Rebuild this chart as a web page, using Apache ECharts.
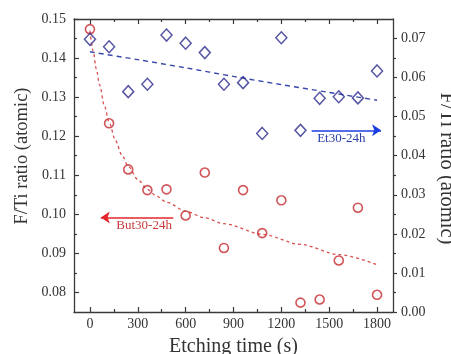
<!DOCTYPE html>
<html><head><meta charset="utf-8">
<script src="https://cdn.jsdelivr.net/npm/echarts@6/dist/echarts.min.js"></script>
<style>html,body{margin:0;padding:0;background:#fff}#c{width:451px;height:354px}</style>
</head><body><div id="c"></div>
<script>
const times = [0,120,240,360,480,600,720,840,960,1080,1200,1320,1440,1560,1680,1800];
const but30 = [0.1474,0.1233,0.1115,0.1062,0.1064,0.0997,0.1107,0.0914,0.1062,0.0952,0.1036,0.0774,0.0782,0.0882,0.1017,0.0794];
const et30 = [0.0698,0.0679,0.0564,0.0583,0.0709,0.0688,0.0664,0.0583,0.0587,0.0457,0.0702,0.0465,0.0547,0.0551,0.0548,0.0617];
const butFitTimes = [0,20,40,60,90,120,160,200,240,300,360,420,480,600,720,840,1080,1320,1560,1800];
const butFit = [0.1470,0.1418,0.1372,0.1332,0.1279,0.1236,0.1189,0.1152,0.1123,0.1089,0.1064,0.1046,0.1031,0.1008,0.0991,0.0976,0.0949,0.0923,0.0897,0.0871];
const etFitTimes = [0,300,600,900,1200,1500,1800];
const etFit = [0.0666,0.0646,0.0625,0.0603,0.0582,0.0562,0.0542];
const xTickLabels = [0,300,600,900,1200,1500,1800];
const xMinorTicks = [150,450,750,1050,1350,1650];
const leftTickLabels = [0.08,0.09,0.10,0.11,0.12,0.13,0.14,0.15];
const leftMinorTicks = [0.085,0.095,0.105,0.115,0.125,0.135,0.145];
const rightTickLabels = [0,0.01,0.02,0.03,0.04,0.05,0.06,0.07];
const rightMinorTicks = [0.005,0.015,0.025,0.035,0.045,0.055,0.065];
const butArrow = {from:[68,0.0992], to:[523,0.0992], label:'But30-24h'};
const etArrow = {from:[1390,0.0465], to:[1825,0.0465], label:'Et30-24h'};

const FONT = '"Liberation Serif","DejaVu Serif",serif';
const AX = '#3a3a3a';
const zip = (a,b) => a.map((v,i)=>[v,b[i]]);

const xRange = {min:-100, max:1900};
const leftRange = {min:0.075, max:0.15};
const rightRange = {min:0, max:0.075};
const line = {show:true, onZero:false, lineStyle:{color:AX, width:1.3}};

function hiddenAxis(extra){
  return Object.assign({type:'value', splitLine:{show:false}, axisLabel:{show:false}, axisLine:{show:false, onZero:false}}, extra);
}

const chart = echarts.init(document.getElementById('c'), null, {renderer:'canvas'});
chart.setOption({
  animation:false,
  backgroundColor:'#fff',
  grid:{left:74, right:58, top:19, bottom:42, containLabel:false, outerBoundsMode:'none'},
  xAxis:[
    {type:'value', ...xRange, position:'bottom',
     axisLine:line,
     axisTick:{show:true, inside:true, length:5, customValues:xTickLabels, lineStyle:{color:AX, width:1.2}},
     axisLabel:{customValues:xTickLabels, margin:5, color:'#333', fontSize:14, fontFamily:FONT, formatter:v=>String(v)},
     splitLine:{show:false},
     name:'Etching time (s)', nameLocation:'middle', nameGap:25, nameMoveOverlap:false,
     nameTextStyle:{fontSize:20, fontFamily:FONT, color:'#333'}},
    hiddenAxis({...xRange, position:'bottom',
     axisTick:{show:true, inside:true, length:3, customValues:xMinorTicks, lineStyle:{color:AX, width:1.2}}}),
    hiddenAxis({...xRange, position:'top', axisLine:line,
     axisTick:{show:true, inside:true, length:5, customValues:xTickLabels, lineStyle:{color:AX, width:1.2}}}),
    hiddenAxis({...xRange, position:'top',
     axisTick:{show:true, inside:true, length:3, customValues:xMinorTicks, lineStyle:{color:AX, width:1.2}}})
  ],
  yAxis:[
    {type:'value', ...leftRange, position:'left',
     axisLine:line,
     axisTick:{show:true, inside:true, length:5, customValues:leftTickLabels, lineStyle:{color:AX, width:1.2}},
     axisLabel:{customValues:leftTickLabels, margin:8, color:'#333', fontSize:14, fontFamily:FONT,
       formatter:v=>v.toFixed(2)},
     splitLine:{show:false},
     name:'F/Ti ratio (atomic)', nameLocation:'middle', nameRotate:90, nameGap:42, nameMoveOverlap:false,
     nameTextStyle:{fontSize:18.5, fontFamily:FONT, color:'#333', padding:[0,0,0,19]}},
    {type:'value', ...rightRange, position:'right',
     axisLine:line,
     axisTick:{show:true, inside:false, length:4, customValues:rightTickLabels, lineStyle:{color:AX, width:1.2}},
     axisLabel:{customValues:rightTickLabels, margin:8, color:'#333', fontSize:14, fontFamily:FONT,
       formatter:v=>v.toFixed(2)},
     splitLine:{show:false},
     name:'F/Ti ratio (atomic)', nameLocation:'middle', nameRotate:-90, nameGap:43, nameMoveOverlap:false,
     nameTextStyle:{fontSize:20.5, fontFamily:FONT, color:'#333', padding:[0,0,0,6]}},
    hiddenAxis({...leftRange, position:'left',
     axisTick:{show:true, inside:true, length:3, customValues:leftMinorTicks, lineStyle:{color:AX, width:1.2}}}),
    hiddenAxis({...rightRange, position:'right',
     axisTick:{show:true, inside:false, length:3, customValues:rightMinorTicks, lineStyle:{color:AX, width:1.2}}})
  ],
  series:[
    {type:'line', name:'But fit', xAxisIndex:0, yAxisIndex:0, data:zip(butFitTimes, butFit),
     smooth:0.3, smoothMonotone:'x', symbol:'none', z:2,
     lineStyle:{color:'#d8504f', width:1.3, type:[3,3]}},
    {type:'line', name:'Et fit', xAxisIndex:0, yAxisIndex:1, data:zip(etFitTimes, etFit),
     smooth:0.3, symbol:'none', z:2,
     lineStyle:{color:'#3848a8', width:1.4, type:[5,4]}},
    {type:'scatter', name:'But30-24h', xAxisIndex:0, yAxisIndex:0, data:zip(times, but30),
     symbol:'circle', symbolSize:9, z:3,
     itemStyle:{color:'transparent', borderColor:'#c42a2e', borderWidth:1.6},
     markLine:{silent:true, animation:false, symbol:['arrow','none'], symbolSize:9,
       lineStyle:{color:'#e2262b', width:1.5, type:'solid'},
       label:{show:true, position:'insideMiddleBottom', distance:2, formatter:butArrow.label,
         color:'#c8393b', fontSize:13, fontFamily:FONT, offset:[7,0]},
       data:[[{coord:butArrow.from},{coord:butArrow.to}]]}},
    {type:'scatter', name:'Et30-24h', xAxisIndex:0, yAxisIndex:1, data:zip(times, et30),
     symbol:'diamond', symbolSize:[11,12], z:3,
     itemStyle:{color:'transparent', borderColor:'#2a2a8c', borderWidth:1.5},
     markLine:{silent:true, animation:false, symbol:['none','arrow'], symbolSize:9,
       lineStyle:{color:'#1c3ee0', width:1.5, type:'solid'},
       label:{show:true, position:'insideMiddleBottom', distance:2, formatter:etArrow.label,
         color:'#2b3fa8', fontSize:13, fontFamily:FONT, offset:[-5,0]},
       data:[[{coord:etArrow.from},{coord:etArrow.to}]]}}
  ]
});
</script></body></html>
